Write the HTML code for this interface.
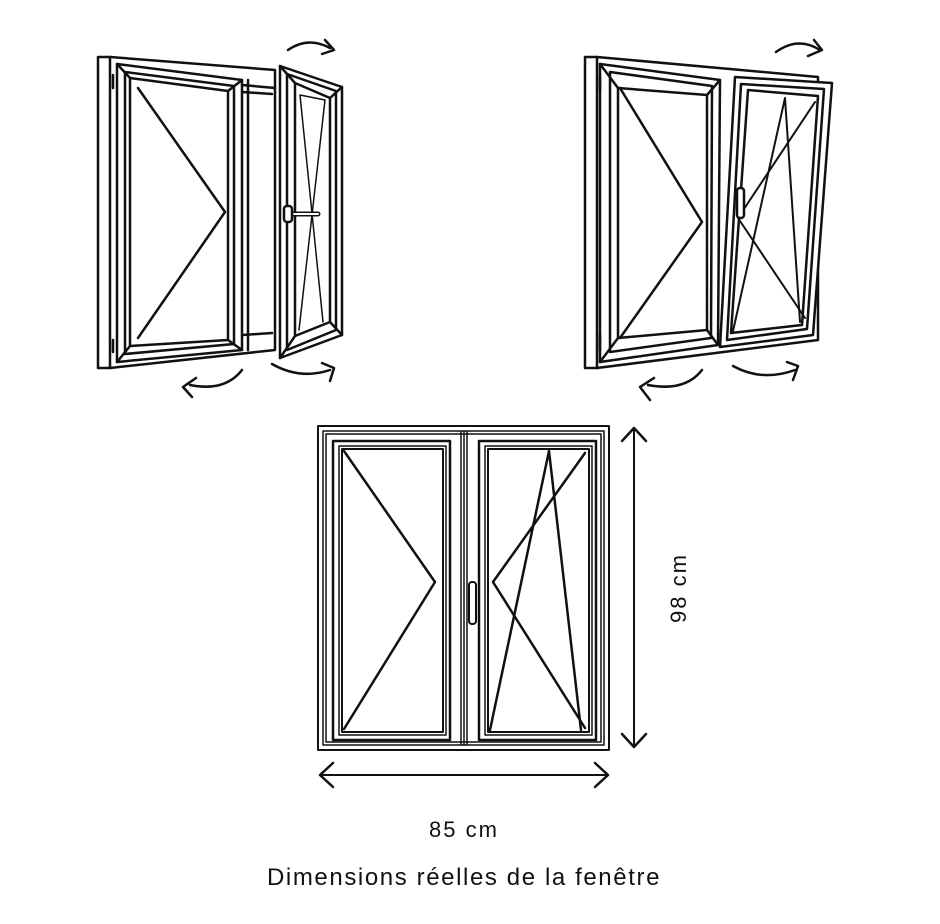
<!DOCTYPE html>
<html><head><meta charset="utf-8"><style>
html,body{margin:0;padding:0;background:#fff;}
svg{display:block}
text{font-family:"Liberation Sans",sans-serif;fill:#111}
</style></head><body>
<svg width="940" height="924" viewBox="0 0 940 924" xmlns="http://www.w3.org/2000/svg">
<g fill="none" stroke="#111" stroke-width="2.5" stroke-linejoin="round" stroke-linecap="round">
<!-- TOP LEFT WINDOW -->
<polygon points="98,57 110,57 275,70 275,350 110,368 98,368" fill="#fff"/>
<line x1="110" y1="57" x2="110" y2="368"/>
<polygon points="117,64 242,80 242,350 117,362"/>
<polygon points="125,72 234,86 234,344 125,354"/>
<polygon points="130,78 228,91 228,340 130,346"/>
<line x1="117" y1="64" x2="130" y2="78"/><line x1="242" y1="80" x2="228" y2="91"/>
<line x1="242" y1="350" x2="228" y2="340"/><line x1="117" y1="362" x2="130" y2="346"/>
<polyline points="138,88 225,212 138,338"/>
<line x1="242" y1="85" x2="275" y2="88"/><line x1="242" y1="92" x2="272" y2="94"/>
<line x1="242" y1="335" x2="272" y2="333"/><line x1="248" y1="80" x2="248" y2="350"/>
<line x1="113" y1="75" x2="113" y2="88"/><line x1="113" y1="340" x2="113" y2="352"/>
<polygon points="280,66 342,87 342,335 280,358" fill="#fff"/>
<polygon points="287,74 336,91 336,330 287,350"/>
<polygon points="295,83 330,98 330,322 295,336"/>
<line x1="280" y1="66" x2="295" y2="83"/><line x1="342" y1="87" x2="330" y2="98"/>
<line x1="342" y1="335" x2="330" y2="322"/><line x1="280" y1="358" x2="295" y2="336"/>
<polyline points="299,330 325,100 300,95 323,322" stroke-width="1.5"/>
<line x1="288" y1="214" x2="318" y2="214" stroke-width="5"/>
<line x1="288" y1="214" x2="318" y2="214" stroke="#fff" stroke-width="2"/>
<rect x="284" y="206" width="8" height="16" rx="3" fill="#fff"/>
<path d="M288,50 Q308,36 330,48"/><polyline points="325,40 334,50 322,54"/>
<path d="M242,370 Q225,392 190,385"/><polyline points="196,378 183,387 192,397"/>
<path d="M272,364 Q300,380 330,370"/><polyline points="322,363 334,368 330,381"/>
<!-- TOP RIGHT WINDOW -->
<polygon points="585,57 597,57 818,77 818,340 597,368 585,368" fill="#fff"/>
<line x1="597" y1="57" x2="597" y2="368"/>
<polygon points="600,64 720,80 718,345 600,362"/>
<polygon points="610,72 712,86 711,338 610,352"/>
<polygon points="618,88 707,95 707,330 618,338"/>
<line x1="600" y1="64" x2="618" y2="88"/><line x1="720" y1="80" x2="707" y2="95"/>
<line x1="718" y1="345" x2="707" y2="330"/><line x1="600" y1="362" x2="618" y2="338"/>
<polyline points="620,88 702,222 620,338"/>
<line x1="600" y1="75" x2="600" y2="90"/><line x1="600" y1="335" x2="600" y2="350"/>
<polygon points="735,77 832,83 813,335 720,347" fill="#fff"/>
<polygon points="741,84 824,89 807,329 727,340"/>
<polygon points="748,90 818,96 802,325 731,333"/>
<polyline points="733,331 785,98 800,322" stroke-width="2"/>
<polyline points="815,102 738,218 805,318" stroke-width="2"/>
<rect x="737" y="188" width="7" height="30" rx="3" fill="#fff"/>
<path d="M776,52 Q798,36 820,50"/><polyline points="814,40 822,50 808,56"/>
<path d="M702,370 Q685,392 648,385"/><polyline points="654,378 640,387 650,400"/>
<path d="M733,366 Q762,382 795,370"/><polyline points="787,362 798,366 793,380"/>
<!-- BOTTOM WINDOW -->
<rect x="318" y="426" width="291" height="324" stroke-width="2"/>
<rect x="323" y="431" width="281" height="314" stroke-width="1.5"/>
<rect x="326" y="434" width="275" height="308" stroke-width="1.5"/>
<line x1="461" y1="431" x2="461" y2="745" stroke-width="1.5"/>
<line x1="464" y1="431" x2="464" y2="745" stroke-width="1.5"/>
<line x1="467" y1="431" x2="467" y2="745" stroke-width="1.5"/>
<rect x="333" y="441" width="117" height="299" stroke-width="2.5"/>
<rect x="339" y="446" width="107" height="289" stroke-width="1.5"/>
<rect x="342" y="449" width="101" height="283" stroke-width="2"/>
<rect x="479" y="441" width="117" height="299" stroke-width="2.5"/>
<rect x="485" y="446" width="107" height="289" stroke-width="1.5"/>
<rect x="488" y="449" width="101" height="283" stroke-width="2"/>
<polyline points="344,451 435,582 344,729"/>
<polyline points="490,730 549,451 581,730"/>
<polyline points="585,453 493,582 585,728"/>
<rect x="469" y="582" width="7" height="42" rx="3" fill="#fff" stroke-width="2"/>
<!-- dimensions -->
<line x1="634" y1="428" x2="634" y2="747" stroke-width="2"/>
<polyline points="622,441 634,428 646,441"/><polyline points="622,734 634,747 646,734"/>
<line x1="320" y1="775" x2="608" y2="775" stroke-width="2"/>
<polyline points="333,763 320,775 333,787"/><polyline points="595,763 608,775 595,787"/>
</g>
<text x="680" y="588" font-size="22" letter-spacing="2" text-anchor="middle" transform="rotate(-90 680 588)" dominant-baseline="middle">98 cm</text>
<text x="464" y="837" font-size="22" letter-spacing="2" text-anchor="middle">85 cm</text>
<text x="464" y="885" font-size="24" letter-spacing="1.6" text-anchor="middle">Dimensions réelles de la fenêtre</text>
</svg>
</body></html>
